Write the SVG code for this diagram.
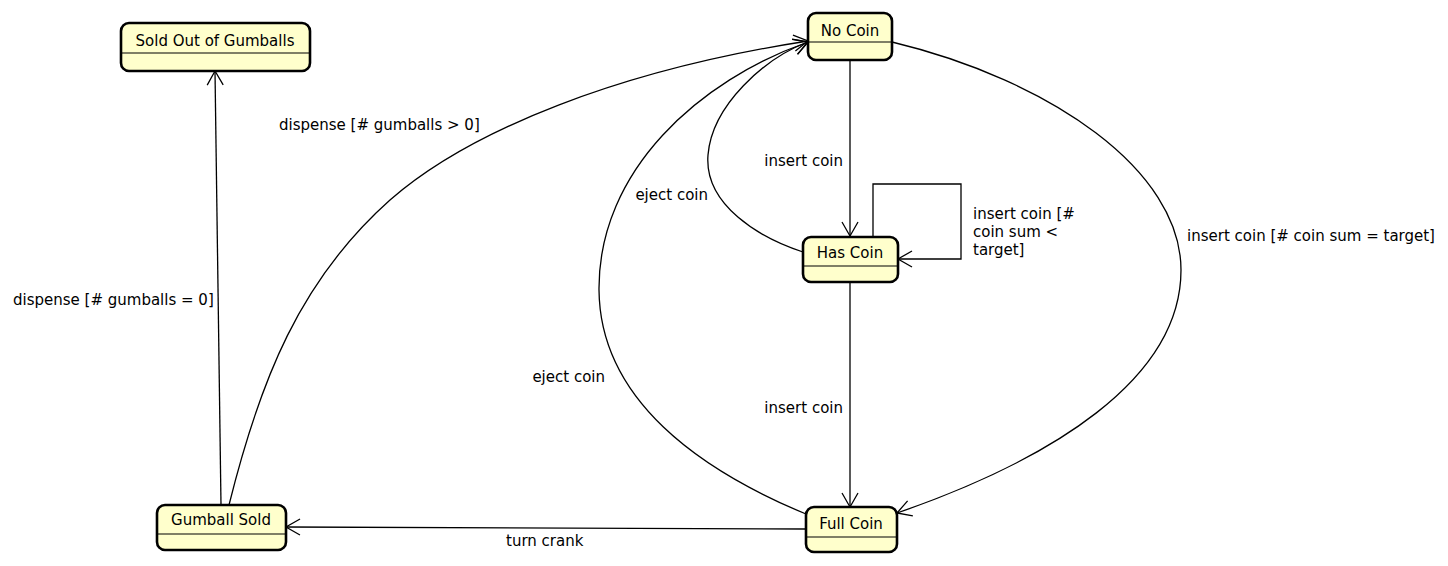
<svg xmlns="http://www.w3.org/2000/svg" width="1448" height="566" viewBox="0 0 1448 566">
<defs>
<style>
.box{fill:#ffffcc;stroke:#000;stroke-width:2.6}
.div{stroke:#000;stroke-width:1.2}
.t{font-family:"DejaVu Sans",sans-serif;font-size:15px;fill:#000}
.c{text-anchor:middle}
.e{fill:none;stroke:#000;stroke-width:1.3}
</style>
<marker id="ah" markerUnits="userSpaceOnUse" viewBox="-16 -10 18 20" refX="0" refY="0" markerWidth="18" markerHeight="20" orient="auto">
<path d="M-14,-8 L0,0 L-14,8" fill="none" stroke="#000" stroke-width="1.3"/>
</marker>
</defs>
<rect width="1448" height="566" fill="#fff"/>
<g id="connectors">
<path class="e" d="M850,60 L850,236" marker-end="url(#ah)"/>
<path class="e" d="M873,237 L873,184 L961,184 L961,259 L898,259" marker-end="url(#ah)"/>
<path class="e" d="M803,252 C760,238 704,205 708,155 C712,105 765,58 808,42" marker-end="url(#ah)"/>
<path class="e" d="M850,282 L850,507" marker-end="url(#ah)"/>
<path class="e" d="M806,514 C700,470 600,400 599,290 C598,170 700,80 808,42" marker-end="url(#ah)"/>
<path class="e" d="M892,42 C1050,80 1181,170 1181,270 C1181,380 1050,460 897,513" marker-end="url(#ah)"/>
<path class="e" d="M806,529 L286,527" marker-end="url(#ah)"/>
<path class="e" d="M221,505 L215,71" marker-end="url(#ah)"/>
<path class="e" d="M229,505 C260,380 300,280 390,200 C470,130 620,70 808,41" marker-end="url(#ah)"/>
</g>
<g id="labels">
<text class="t" x="843" y="166" text-anchor="end">insert coin</text>
<text class="t" x="708" y="200" text-anchor="end">eject coin</text>
<text class="t" x="973" y="219">insert coin [#</text>
<text class="t" x="973" y="237">coin sum &lt;</text>
<text class="t" x="973" y="255">target]</text>
<text class="t" x="1187" y="241">insert coin [# coin sum = target]</text>
<text class="t" x="605" y="382" text-anchor="end">eject coin</text>
<text class="t" x="843" y="413" text-anchor="end">insert coin</text>
<text class="t" x="506" y="546">turn crank</text>
<text class="t" x="13" y="305">dispense [# gumballs = 0]</text>
<text class="t" x="279" y="130">dispense [# gumballs &gt; 0]</text>
</g>
<g id="sold-out">
<rect class="box" x="121" y="23" width="189" height="48" rx="8"/>
<line class="div" x1="122" y1="53" x2="309" y2="53"/>
<text class="t c" x="215" y="46">Sold Out of Gumballs</text>
</g>
<g id="no-coin">
<rect class="box" x="808" y="13" width="84" height="47" rx="8"/>
<line class="div" x1="809" y1="42" x2="891" y2="42"/>
<text class="t c" x="850" y="36">No Coin</text>
</g>
<g id="has-coin">
<rect class="box" x="803" y="237" width="95" height="45" rx="8"/>
<line class="div" x1="804" y1="266" x2="897" y2="266"/>
<text class="t c" x="850" y="258">Has Coin</text>
</g>
<g id="full-coin">
<rect class="box" x="806" y="507" width="91" height="45" rx="8"/>
<line class="div" x1="807" y1="537" x2="896" y2="537"/>
<text class="t c" x="851" y="529">Full Coin</text>
</g>
<g id="gumball-sold">
<rect class="box" x="157" y="505" width="129" height="45" rx="8"/>
<line class="div" x1="158" y1="534" x2="285" y2="534"/>
<text class="t c" x="221" y="525">Gumball Sold</text>
</g>
</svg>
